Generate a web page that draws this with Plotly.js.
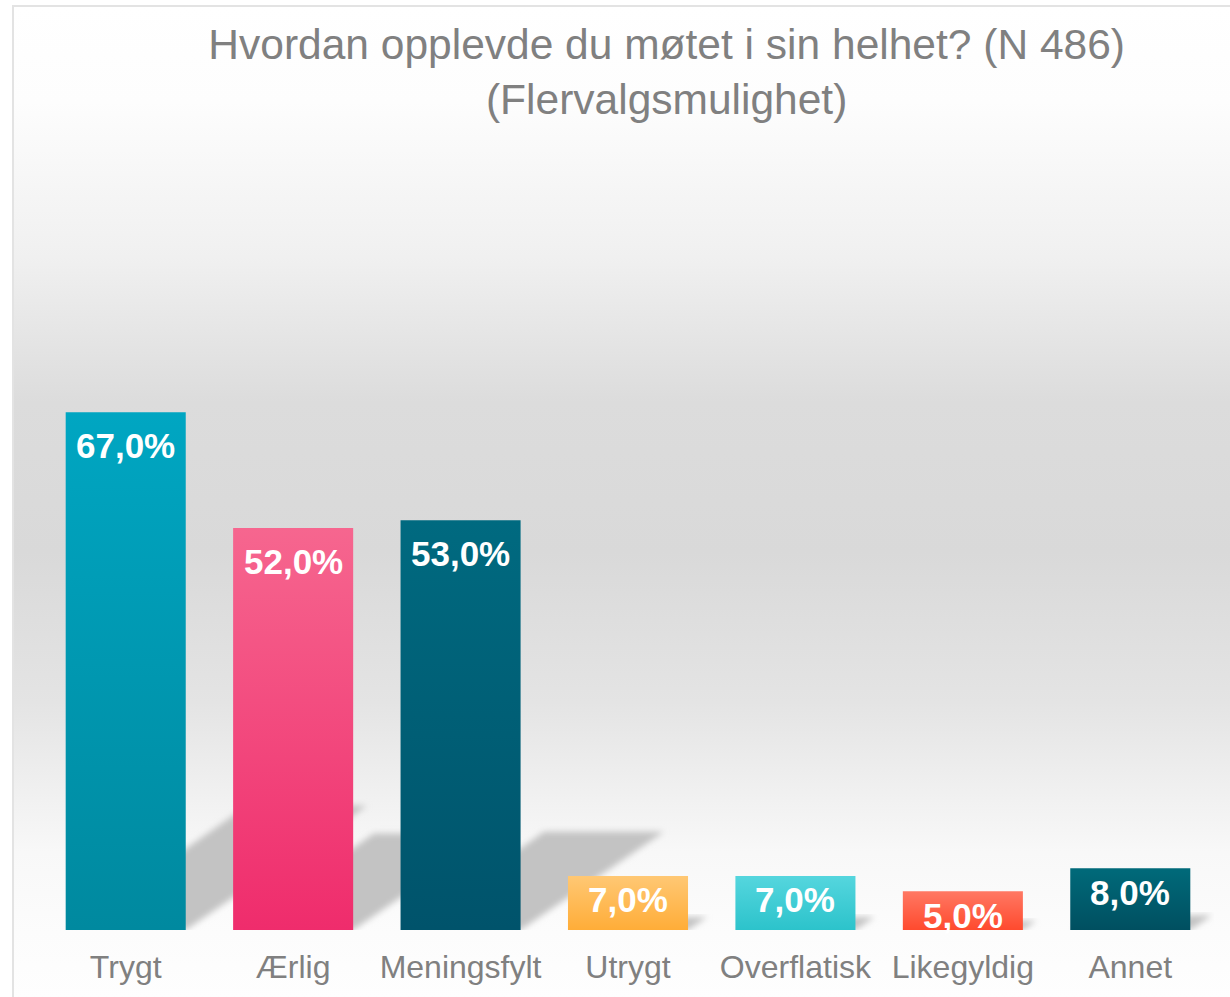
<!DOCTYPE html>
<html>
<head>
<meta charset="utf-8">
<script src="https://cdn.plot.ly/plotly-3.0.1.min.js"></script>
<style>
  html, body { margin: 0; padding: 0; background: #ffffff; }
  #wrap { position: relative; width: 1230px; height: 997px; overflow: hidden; background: #ffffff; }
  #bg { position: absolute; left: 12px; top: 5px; width: 1240px; height: 1010px;
        border-left: 2px solid #e3e3e3; border-top: 2px solid #e3e3e3;
        background: linear-gradient(to bottom, #ffffff 0px, #fdfdfd 95px, #f0f0f0 250px, #dcdcdc 395px, #d9d9d9 545px, #e4e4e4 695px, #f8f8f8 845px, #fcfcfc 925px, #fefefe 992px); }
  #chart { position: absolute; left: 0; top: 0; width: 1230px; height: 997px; }
</style>
</head>
<body>
<div id="wrap">
  <div id="bg"></div>
  <div id="chart"></div>
</div>
<script>
const categories = ["Trygt", "Ærlig", "Meningsfylt", "Utrygt", "Overflatisk", "Likegyldig", "Annet"];
const values = [67.0, 52.0, 53.0, 7.0, 7.0, 5.0, 8.0];
const valueLabels = ["67,0%", "52,0%", "53,0%", "7,0%", "7,0%", "5,0%", "8,0%"];
const topColors = ["#00a6c2", "#f6668f", "#006a80", "#ffc874", "#55d6de", "#ff7863", "#006a7a"];
const bottomColors = ["#00899f", "#ef2c6c", "#00536b", "#ffad38", "#2cc3cb", "#ff4a2e", "#004f60"];

const trace = {
  type: "bar",
  x: categories,
  y: values,
  marker: { color: bottomColors, line: { width: 0 } },
  hoverinfo: "skip"
};

const annotations = categories.map((c, i) => ({
  x: c, y: values[i], xref: "x", yref: "y",
  text: "<b>" + valueLabels[i] + "</b>",
  showarrow: false, yanchor: "middle", yshift: values[i] > 20 ? -33 : -24,
  font: { family: "Liberation Sans, Arial, sans-serif", size: 35, color: "#ffffff" }
}));

const layout = {
  width: 1230, height: 997,
  margin: { l: 42, r: 16, t: 130, b: 67, pad: 0 },
  paper_bgcolor: "rgba(0,0,0,0)",
  plot_bgcolor: "rgba(0,0,0,0)",
  bargap: 0.283,
  showlegend: false,
  title: {
    text: "Hvordan opplevde du møtet i sin helhet? (N 486)<br>(Flervalgsmulighet)",
    font: { family: "Liberation Sans, Arial, sans-serif", size: 42.5, color: "#808080" },
    x: 0.542, xref: "container", xanchor: "center",
    y: 0.941, yref: "container", yanchor: "middle"
  },
  xaxis: {
    type: "category",
    showgrid: false, zeroline: false, showline: false,
    ticks: "outside", ticklen: 9, tickcolor: "rgba(0,0,0,0)",
    tickfont: { family: "Liberation Sans, Arial, sans-serif", size: 32, color: "#808080" }
  },
  yaxis: {
    range: [0, 103.5],
    showgrid: false, zeroline: false, showline: false, showticklabels: false, ticks: ""
  },
  annotations: annotations
};

Plotly.newPlot("chart", [trace], layout, { displayModeBar: false, staticPlot: true }).then(gd => {
  const svg = gd.querySelector("svg.main-svg");
  const ns = "http://www.w3.org/2000/svg";
  let defs = svg.querySelector("defs");
  if (!defs) { defs = document.createElementNS(ns, "defs"); svg.insertBefore(defs, svg.firstChild); }

  const filt = document.createElementNS(ns, "filter");
  filt.setAttribute("id", "shadowBlur");
  filt.setAttribute("x", "-20%"); filt.setAttribute("y", "-20%");
  filt.setAttribute("width", "140%"); filt.setAttribute("height", "140%");
  const blur = document.createElementNS(ns, "feGaussianBlur");
  blur.setAttribute("stdDeviation", "3");
  filt.appendChild(blur);
  defs.appendChild(filt);

  const paths = gd.querySelectorAll(".trace.bars .point path");
  const barsTrace = gd.querySelector(".trace.bars");
  const shadowGroup = document.createElementNS(ns, "g");
  barsTrace.parentNode.insertBefore(shadowGroup, barsTrace);

  paths.forEach((p, i) => {
    const g = document.createElementNS(ns, "linearGradient");
    g.setAttribute("id", "barGrad" + i);
    g.setAttribute("x1", "0"); g.setAttribute("y1", "0");
    g.setAttribute("x2", "0"); g.setAttribute("y2", "1");
    const s1 = document.createElementNS(ns, "stop");
    s1.setAttribute("offset", "0"); s1.setAttribute("stop-color", topColors[i]);
    const s2 = document.createElementNS(ns, "stop");
    s2.setAttribute("offset", "1"); s2.setAttribute("stop-color", bottomColors[i]);
    g.appendChild(s1); g.appendChild(s2);
    defs.appendChild(g);
    p.style.fill = "url(#barGrad" + i + ")";

    // derived cast shadow from the bar geometry
    const bb = p.getBBox();
    const h = bb.height;
    const x0 = bb.x, x1 = bb.x + bb.width, yb = bb.y + bb.height;
    const dx = 0.35 * h, dy = 0.24 * h;
    const sp = document.createElementNS(ns, "path");
    sp.setAttribute("d", `M${x0 + 4},${yb} L${x1},${yb} L${x1 + dx},${yb - dy} L${x0 + dx},${yb - dy} Z`);
    sp.setAttribute("fill", "#c3c3c3");
    sp.setAttribute("filter", "url(#shadowBlur)");
    shadowGroup.appendChild(sp);
  });
});
</script>
</body>
</html>
